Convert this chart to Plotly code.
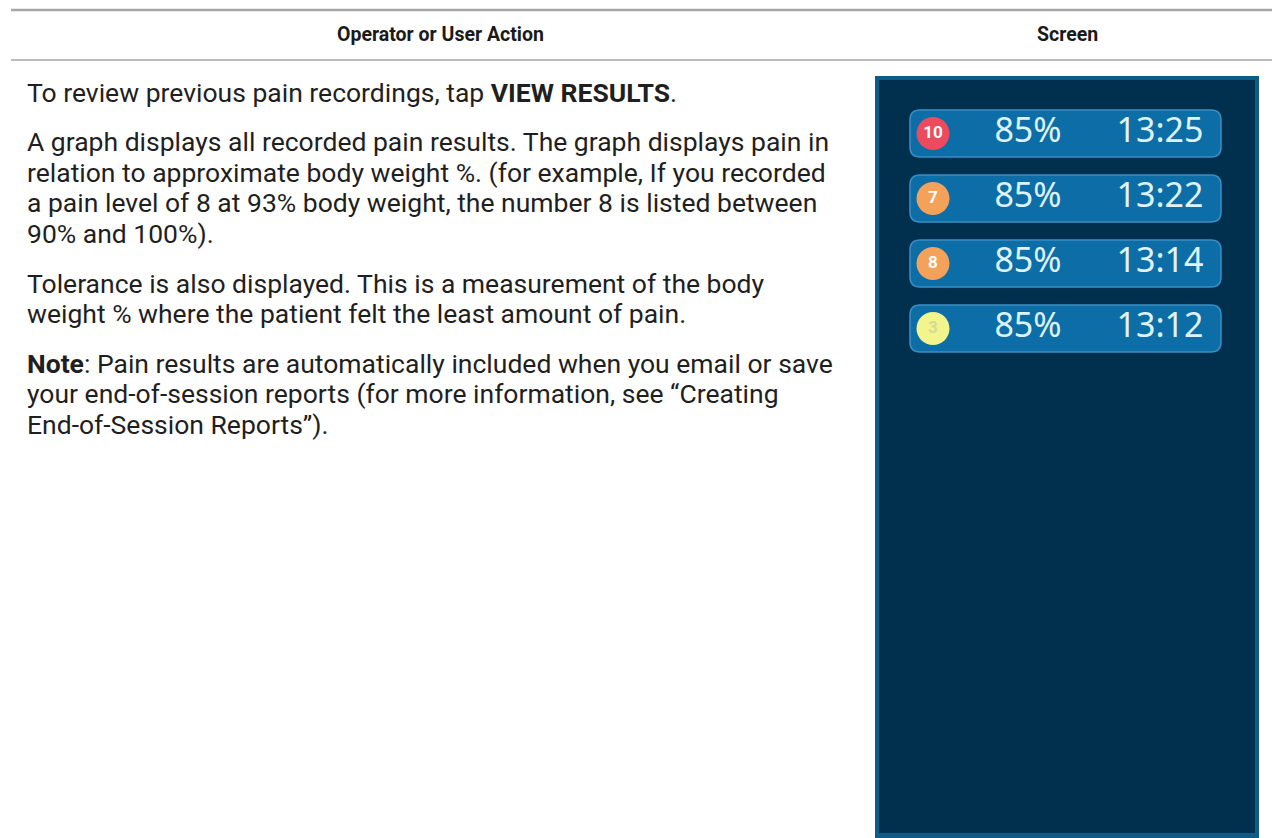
import plotly.graph_objects as go

W, H = 1272, 838

# ---- data ----
header_labels = ["Operator or User Action", "Screen"]
paragraphs = [
    ["To review previous pain recordings, tap <b>VIEW RESULTS</b>."],
    ["A graph displays all recorded pain results. The graph displays pain in",
     "relation to approximate body weight %. (for example, If you recorded",
     "a pain level of 8 at 93% body weight, the number 8 is listed between",
     "90% and 100%)."],
    ["Tolerance is also displayed. This is a measurement of the body",
     "weight % where the patient felt the least amount of pain."],
    ["<b>Note</b>: Pain results are automatically included when you email or save",
     "your end-of-session reports (for more information, see \u201cCreating",
     "End-of-Session Reports\u201d)."],
]
pain_levels = [10, 7, 8, 3]
body_weight_pct = ["85%", "85%", "85%", "85%"]
record_times = ["13:25", "13:22", "13:14", "13:12"]
pain_colors = ["#ec4a5d", "#f4a259", "#f4a259", "#f2f48c"]
pain_text_colors = ["#ffffff", "#ffffff", "#ffffff", "#d9d99a"]

# ---- layout geometry ----
row_top0, row_h, row_pitch = 110, 47, 65
row_x0, row_x1 = 910, 1221
circle_x, pct_x, time_x = 933, 1028, 1160

fig = go.Figure()
shapes = []
# table rules
shapes.append(dict(type="line", x0=11, x1=W, y0=10, y1=10, line=dict(color="#a6a6a6", width=2.5)))
shapes.append(dict(type="line", x0=11, x1=W, y0=60, y1=60, line=dict(color="#a6a6a6", width=1.5)))
# screen panel
shapes.append(dict(type="rect", x0=875, x1=1259, y0=76, y1=H + 5, fillcolor="#0e5b88", line=dict(width=0), layer="below"))
shapes.append(dict(type="rect", x0=879, x1=1255, y0=80, y1=833, fillcolor="#01304f", line=dict(width=0), layer="below"))


def rounded(x0, y0, x1, y1, r):
    return (f"M {x0+r},{y0} L {x1-r},{y0} Q {x1},{y0} {x1},{y0+r} L {x1},{y1-r} "
            f"Q {x1},{y1} {x1-r},{y1} L {x0+r},{y1} Q {x0},{y1} {x0},{y1-r} "
            f"L {x0},{y0+r} Q {x0},{y0} {x0+r},{y0} Z")


row_centers = []
for i in range(len(pain_levels)):
    y0 = row_top0 + i * row_pitch
    y1 = y0 + row_h
    row_centers.append((y0 + y1) / 2)
    shapes.append(dict(type="path", path=rounded(row_x0, y0, row_x1, y1, 10),
                       fillcolor="#0d6ea7", line=dict(color="#3a8ec4", width=1.5), layer="below"))

fig.add_trace(go.Scatter(
    x=[circle_x] * len(pain_levels), y=row_centers, mode="markers+text",
    marker=dict(size=33, color=pain_colors, line=dict(width=0)),
    text=[str(v) for v in pain_levels], textposition="middle center",
    textfont=dict(family="Roboto", size=17, color=pain_text_colors, weight="bold"),
    hoverinfo="skip"))
fig.add_trace(go.Scatter(
    x=[pct_x] * len(pain_levels), y=row_centers, mode="text",
    text=body_weight_pct, textposition="middle center",
    textfont=dict(family="Noto Sans", size=34, color="#dff3fb"), hoverinfo="skip"))
fig.add_trace(go.Scatter(
    x=[time_x] * len(pain_levels), y=row_centers, mode="text",
    text=record_times, textposition="middle center",
    textfont=dict(family="Noto Sans", size=34, color="#dff3fb"), hoverinfo="skip"))

annotations = []
annotations.append(dict(x=440, y=34, text="<b>" + header_labels[0] + "</b>", showarrow=False,
                        xanchor="center", yanchor="middle", font=dict(family="Roboto", size=19.5, color="#1a1a1a")))
annotations.append(dict(x=1067, y=34, text="<b>" + header_labels[1] + "</b>", showarrow=False,
                        xanchor="center", yanchor="middle", font=dict(family="Roboto", size=19.5, color="#1a1a1a")))

line_pitch, para_gap = 30.4, 19.5
y = 92
for p in paragraphs:
    for line in p:
        annotations.append(dict(x=25, y=y, text=line, showarrow=False, xanchor="left", yanchor="middle",
                                font=dict(family="Roboto", size=26.5, color="#1f1f1f")))
        y += line_pitch
    y += para_gap

fig.update_layout(
    width=W, height=H, autosize=False,
    margin=dict(l=0, r=0, t=0, b=0),
    paper_bgcolor="#ffffff", plot_bgcolor="#ffffff",
    showlegend=False,
    xaxis=dict(range=[0, W], visible=False, fixedrange=True),
    yaxis=dict(range=[H, 0], visible=False, fixedrange=True),
    shapes=shapes, annotations=annotations,
)

fig.write_html("out.html", config={"displayModeBar": False},
               post_script="document.body.style.margin='0';document.body.style.overflow='hidden';")
